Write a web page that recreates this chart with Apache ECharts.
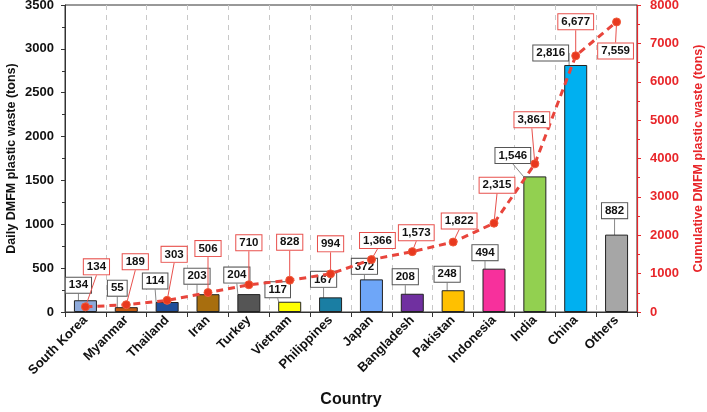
<!DOCTYPE html>
<html>
<head>
<meta charset="utf-8">
<script src="https://cdn.jsdelivr.net/npm/echarts@6/dist/echarts.min.js"></script>
<style>html,body{margin:0;padding:0;background:#fff;}#c{width:707px;height:412px;}</style>
</head>
<body>
<div id="c"></div>
<script>
const categories = ['South Korea','Myanmar','Thailand','Iran','Turkey','Vietnam','Philippines','Japan','Bangladesh','Pakistan','Indonesia','India','China','Others'];
const daily = [134,55,114,203,204,117,167,372,208,248,494,1546,2816,882];
const cumulative = [134,189,303,506,710,828,994,1366,1573,1822,2315,3861,6677,7559];
const leftTicks = [0,500,1000,1500,2000,2500,3000,3500];
const rightTicks = [0,1000,2000,3000,4000,5000,6000,7000,8000];

const barColors = ['#8eaadb','#c55a11','#1f4e9a','#a86e0e','#555555','#ffff00','#1a7ea3','#6ea6f8','#7030a0','#ffc000','#f7309c','#92d050','#00b0f0','#a6a6a6'];
// label offsets (px) relative to bar top / point centre
const barLabelOffsets = [[-7,-15],[-9,-19],[-12,-21],[-11,-18],[-12,-19],[-12,-12],[-7,-18],[-7,-13],[-7,-17],[-6,-16],[-9,-16],[-22,-21],[-25,-12],[-2,-24]];
const cumLabelOffsets = [[11,-40],[9,-43],[7,-46],[0,-44],[0,-42],[0,-38],[0,-30],[6,-19],[4,-19],[6,-21],[3,-38],[-3,-44],[0,-34],[-1,29]];

const fmt = v => v.toLocaleString('en-US');
const FONT = 'Liberation Sans';
const RED = '#e8262a';

const chart = echarts.init(document.getElementById('c'), null, {renderer:'canvas'});
chart.setOption({
  animation:false,
  backgroundColor:'#fff',
  grid:{left:65,right:70,top:5,bottom:100,show:true,borderColor:'#333',borderWidth:1,containLabel:false,outerBoundsMode:'none'},
  xAxis:{
    type:'category', data:categories,
    name:'Country', nameLocation:'middle', nameGap:80, nameMoveOverlap:false,
    nameTextStyle:{fontFamily:FONT,fontWeight:'bold',fontSize:16,color:'#111'},
    axisLine:{lineStyle:{color:'#333',width:1}},
    axisTick:{show:true,length:5,lineStyle:{color:'#333'}},
    axisLabel:{rotate:45,fontFamily:FONT,fontWeight:'bold',fontSize:13,color:'#111',margin:6,interval:0},
    splitLine:{show:true,lineStyle:{color:'#c8c8c8',type:[5,5],width:1}}
  },
  yAxis:[{
    type:'value', min:leftTicks[0], max:leftTicks[leftTicks.length-1], interval:leftTicks[1]-leftTicks[0],
    name:'Daily DMFM plastic waste (tons)', nameLocation:'middle', nameGap:47, nameMoveOverlap:false,
    nameTextStyle:{fontFamily:FONT,fontWeight:'bold',fontSize:12.5,color:'#111'},
    axisLine:{show:true,lineStyle:{color:'#333'}},
    axisTick:{show:true,length:4,lineStyle:{color:'#333'}},
    minorTick:{show:true,splitNumber:2,length:3,lineStyle:{color:'#333'}},
    axisLabel:{formatter:v=>String(v),fontFamily:FONT,fontWeight:'bold',fontSize:13,color:'#111',margin:11},
    splitLine:{show:false}
  },{
    type:'value', min:rightTicks[0], max:rightTicks[rightTicks.length-1], interval:rightTicks[1]-rightTicks[0], position:'right',
    name:'Cumulative DMFM plastic waste (tons)', nameLocation:'middle', nameGap:55, nameMoveOverlap:false,
    nameTextStyle:{fontFamily:FONT,fontWeight:'bold',fontSize:12.5,color:RED},
    axisLine:{show:true,lineStyle:{color:RED,width:1.2}},
    axisTick:{show:true,length:4,lineStyle:{color:RED}},
    minorTick:{show:true,splitNumber:2,length:3,lineStyle:{color:RED}},
    axisLabel:{formatter:v=>String(v),fontFamily:FONT,fontWeight:'bold',fontSize:13,color:RED,margin:13},
    splitLine:{show:false}
  }],
  series:[{
    type:'bar', yAxisIndex:0, barWidth:23,
    data: daily.map((v,i)=>({value:v,itemStyle:{color:barColors[i]}})),
    itemStyle:{borderColor:'#222',borderWidth:1},
    label:{show:true,position:'top',formatter:p=>fmt(p.value),fontFamily:FONT,fontWeight:'bold',fontSize:11.5,color:'#111',
      backgroundColor:'#fff',borderColor:'#555',borderWidth:1,padding:[2,3,1,3]},
    labelLine:{show:true,lineStyle:{color:'#888',width:1}},
    labelLayout:function(p){
      const o = barLabelOffsets[p.dataIndex];
      return {x:p.rect.x+p.rect.width/2+o[0], y:p.rect.y+o[1], align:'center', verticalAlign:'middle'};
    },
    z:2
  },{
    type:'line', yAxisIndex:1,
    data: cumulative,
    lineStyle:{color:'#e8453c',width:3,type:[7,5]},
    symbol:'circle', symbolSize:8,
    itemStyle:{color:'#e8391f',borderColor:'#f05a3a',borderWidth:1},
    label:{show:true,position:'top',formatter:p=>fmt(p.value),fontFamily:FONT,fontWeight:'bold',fontSize:11.5,color:'#111',
      backgroundColor:'#fff',borderColor:'#e8504c',borderWidth:1,padding:[2,3,1,3]},
    labelLine:{show:true,lineStyle:{color:'#e8504c',width:1}},
    labelLayout:function(p){
      const o = cumLabelOffsets[p.dataIndex];
      return {x:p.rect.x+p.rect.width/2+o[0], y:p.rect.y+p.rect.height/2+o[1], align:'center', verticalAlign:'middle'};
    },
    z:3
  }]
});
</script>
</body>
</html>
